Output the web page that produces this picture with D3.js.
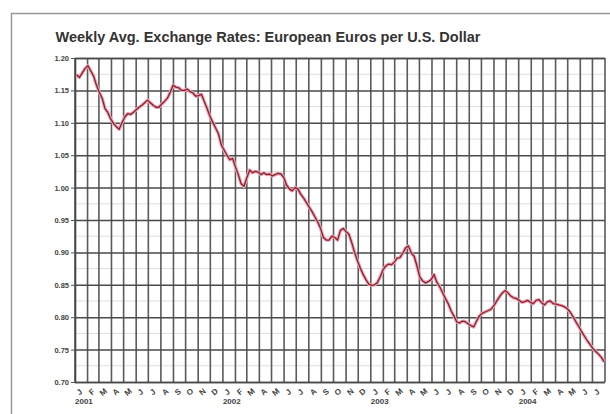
<!DOCTYPE html>
<html>
<head>
<meta charset="utf-8">
<script src="https://cdn.jsdelivr.net/npm/d3@7"></script>
<style>
  body { margin: 0; background: #fff; }
  svg { font-family: 'Liberation Sans', Arial, sans-serif; }
</style>
</head>
<body>
<svg id="chart" width="610" height="414"></svg>
<script>
const title = 'Weekly Avg. Exchange Rates: European Euros per U.S. Dollar'
const firstWeek = '2001-01-05'
const rangeStart = '2001-01-01'
const rangeEnd = '2004-08-01'
const yTicks = [0.70, 0.75, 0.80, 0.85, 0.90, 0.95, 1.00, 1.05, 1.10, 1.15, 1.20]
const monthLetters = ['J', 'F', 'M', 'A', 'M', 'J', 'J', 'A', 'S', 'O', 'N', 'D']
const yearLabels = ['2001', '2002', '2003', '2004']

// weekly averages, one per week from firstWeek
const rates = [
  1.174, 1.170, 1.177, 1.184, 1.188, 1.180, 1.172, 1.158, 1.147, 1.138,
  1.122, 1.116, 1.106, 1.099, 1.094, 1.090, 1.100, 1.109, 1.114, 1.113,
  1.116, 1.120, 1.124, 1.127, 1.131, 1.135, 1.131, 1.127, 1.124, 1.124,
  1.129, 1.133, 1.138, 1.147, 1.158, 1.155, 1.154, 1.150, 1.150, 1.152,
  1.148, 1.146, 1.141, 1.142, 1.144, 1.133, 1.122, 1.110, 1.101, 1.092,
  1.083, 1.066, 1.058, 1.050, 1.043, 1.045, 1.032, 1.020, 1.006, 1.002,
  1.015, 1.027, 1.023, 1.025, 1.024, 1.020, 1.023, 1.020, 1.021, 1.018,
  1.020, 1.022, 1.021, 1.016, 1.004, 0.998, 0.995, 1.000, 0.998, 0.990,
  0.984, 0.977, 0.970, 0.963, 0.955, 0.947, 0.937, 0.923, 0.919, 0.919,
  0.925, 0.923, 0.919, 0.934, 0.937, 0.932, 0.928, 0.915, 0.900, 0.887,
  0.876, 0.866, 0.858, 0.851, 0.849, 0.850, 0.853, 0.862, 0.873, 0.879,
  0.882, 0.881, 0.885, 0.891, 0.892, 0.899, 0.907, 0.910, 0.899, 0.894,
  0.879, 0.862, 0.856, 0.853, 0.855, 0.858, 0.866, 0.854, 0.847, 0.838,
  0.829, 0.821, 0.810, 0.802, 0.793, 0.791, 0.794, 0.793, 0.790, 0.787,
  0.785, 0.794, 0.802, 0.806, 0.808, 0.810, 0.812, 0.817, 0.824, 0.831,
  0.837, 0.841, 0.838, 0.833, 0.830, 0.829, 0.826, 0.823, 0.824, 0.826,
  0.823, 0.821, 0.826, 0.827, 0.822, 0.819, 0.824, 0.825, 0.821, 0.820,
  0.819, 0.818, 0.816, 0.813, 0.808, 0.801, 0.793, 0.786, 0.778, 0.771,
  0.764, 0.758, 0.752, 0.747, 0.743, 0.738, 0.731
]

const parse = d3.timeParse('%Y-%m-%d')
const start = parse(firstWeek)
const data = rates.map((v, i) => ({ date: d3.timeDay.offset(start, i * 7), value: v }))

const margin = { top: 58, right: 5, bottom: 32, left: 75 }
const width = 610
const height = 414

const svg = d3.select('#chart')

// outer frame
svg.append('rect')
  .attr('x', 11.5).attr('y', 13.5)
  .attr('width', 640).attr('height', 440)
  .attr('fill', 'none').attr('stroke', '#999').attr('stroke-width', 1.5)

svg.append('text')
  .attr('x', 268).attr('y', 42)
  .attr('text-anchor', 'middle')
  .attr('font-size', 14.5)
  .attr('font-weight', 'bold')
  .attr('fill', '#333')
  .text(title)

const x = d3.scaleTime()
  .domain([parse(rangeStart), parse(rangeEnd)])
  .range([margin.left, width - margin.right])

const y = d3.scaleLinear()
  .domain([0.70, 1.20])
  .range([height - margin.bottom, margin.top])

const months = d3.timeMonth.range(parse(rangeStart), parse(rangeEnd))

// minor horizontal lines
svg.append('g')
  .selectAll('line')
  .data(yTicks.slice(0, -1))
  .join('line')
  .attr('x1', margin.left).attr('x2', width - margin.right)
  .attr('y1', d => y(d + 0.025)).attr('y2', d => y(d + 0.025))
  .attr('stroke', '#ddd').attr('stroke-width', 1)

// monthly vertical grid
svg.append('g')
  .selectAll('line')
  .data(months.concat([parse(rangeEnd)]))
  .join('line')
  .attr('x1', d => x(d)).attr('x2', d => x(d))
  .attr('y1', margin.top).attr('y2', height - margin.bottom)
  .attr('stroke', '#5a5a5a').attr('stroke-width', 1.6)

// y axis with full-width grid
const yAxis = svg.append('g')
  .attr('transform', `translate(${margin.left},0)`)
  .call(d3.axisLeft(y)
    .tickValues(yTicks)
    .tickFormat(d3.format('.2f'))
    .tickSize(-(width - margin.left - margin.right))
    .tickPadding(6))

yAxis.select('.domain').attr('stroke', '#444').attr('stroke-width', 1.6)
yAxis.selectAll('.tick line').attr('stroke', '#4a4a4a').attr('stroke-width', 1.5)
yAxis.selectAll('.tick text').attr('font-size', 7.5).attr('font-weight', 'bold').attr('fill', '#444')
yAxis.selectAll('.tick').append('line')
  .attr('x1', -4).attr('x2', 0)
  .attr('stroke', '#555')

// month letters
svg.append('g')
  .selectAll('text')
  .data(months)
  .join('text')
  .attr('transform', d => `translate(${x(d3.timeDay.offset(d, 15))},${height - margin.bottom + 12}) rotate(-40)`)
  .attr('text-anchor', 'middle')
  .attr('font-size', 8)
  .attr('font-weight', 'bold')
  .attr('fill', '#444')
  .text(d => monthLetters[d.getMonth()])

// year labels
svg.append('g')
  .selectAll('text')
  .data(yearLabels)
  .join('text')
  .attr('x', d => x(parse(d + '-01-01')))
  .attr('y', height - margin.bottom + 22)
  .attr('font-size', 8)
  .attr('font-weight', 'bold')
  .attr('fill', '#444')
  .text(d => d)

const line = d3.line()
  .x(d => x(d.date))
  .y(d => y(d.value))

svg.append('path')
  .datum(data)
  .attr('fill', 'none')
  .attr('stroke', '#eaa6b0')
  .attr('stroke-width', 3.4)
  .attr('stroke-linejoin', 'round')
  .attr('d', line)

svg.append('path')
  .datum(data)
  .attr('fill', 'none')
  .attr('stroke', '#8e1f33')
  .attr('stroke-width', 1.3)
  .attr('stroke-linejoin', 'round')
  .attr('d', line)
</script>
</body>
</html>
